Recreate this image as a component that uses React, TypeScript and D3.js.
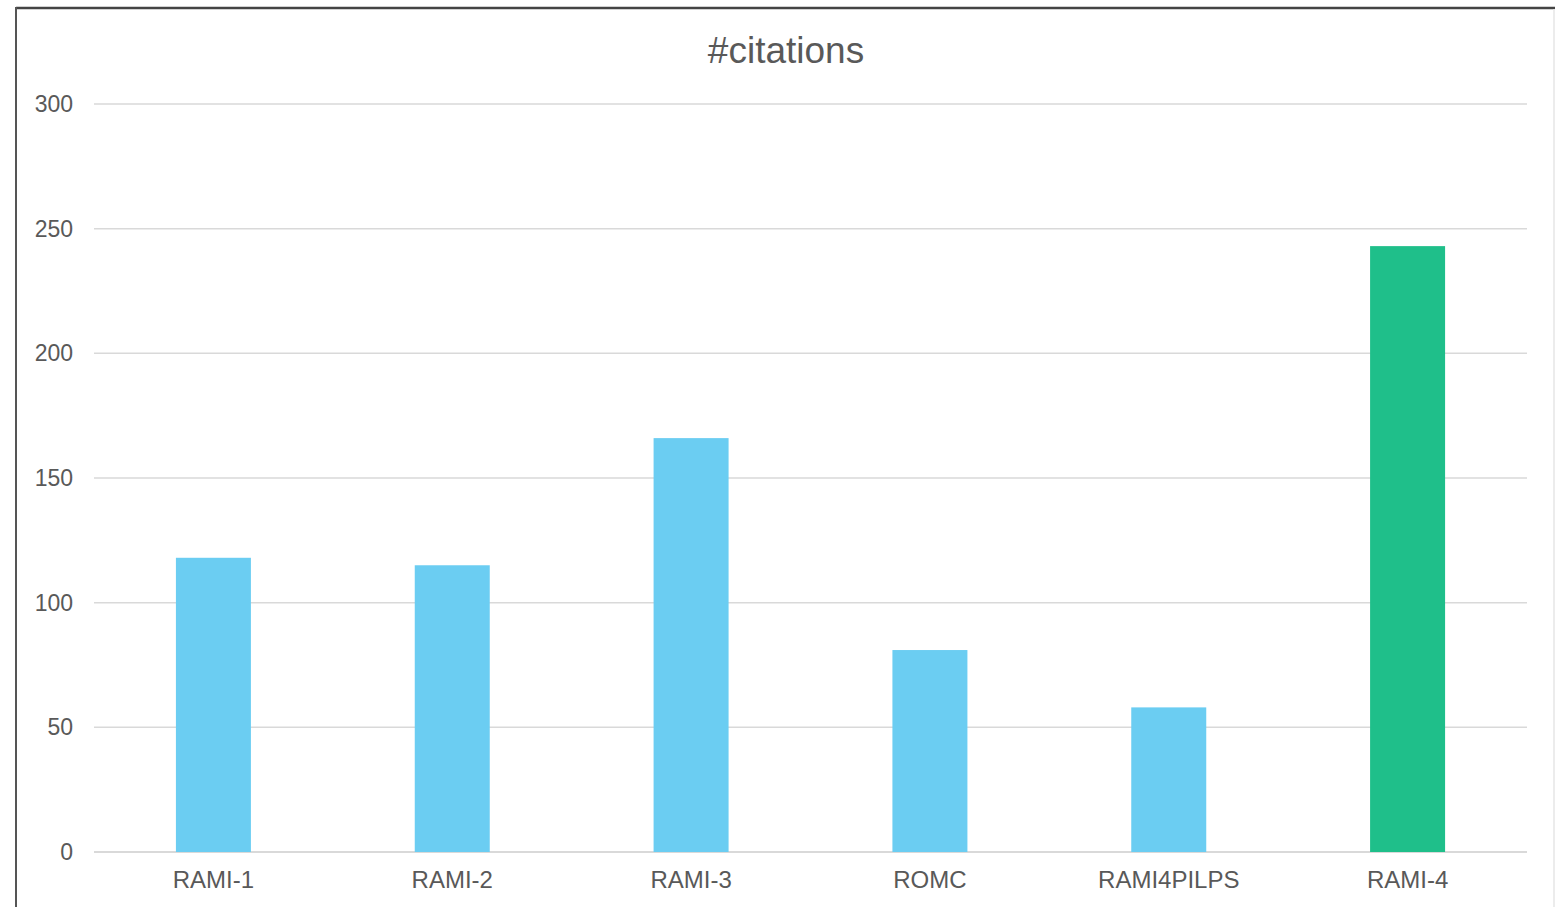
import React from "react";
import * as d3 from "d3";

const categories = ["RAMI-1", "RAMI-2", "RAMI-3", "ROMC", "RAMI4PILPS", "RAMI-4"];
const citations = [118, 115, 166, 81, 58, 243];
const barColors = ["#6BCDF2", "#6BCDF2", "#6BCDF2", "#6BCDF2", "#6BCDF2", "#1FBF8A"];
const yTicks = [0, 50, 100, 150, 200, 250, 300];
const title = "#citations";

const W = 1555;
const H = 907;
const plot = { left: 94, right: 1527, top: 104, bottom: 852 };
const font = "'Liberation Sans', Arial, sans-serif";
const textColor = "#595959";

export default function App() {
  const x = d3
    .scaleBand<string>()
    .domain(categories)
    .range([plot.left, plot.right])
    .paddingInner(0.686)
    .paddingOuter(0.343);
  const y = d3.scaleLinear().domain([0, 300]).range([plot.bottom, plot.top]);

  return (
    <svg
      width={W}
      height={H}
      style={{ position: "fixed", left: 0, top: 0, background: "#fff" }}
      fontFamily={font}
    >
      <rect x={0} y={0} width={W} height={H} fill="#fff" />
      {/* frame */}
      <line x1={16} y1={8} x2={W} y2={8} stroke="#444" strokeWidth={2.5} />
      <line x1={16} y1={7} x2={16} y2={H} stroke="#555" strokeWidth={2} />
      <line x1={1554} y1={9} x2={1554} y2={H} stroke="#e6e6e6" strokeWidth={1.5} />

      <text
        x={786}
        y={63}
        textAnchor="middle"
        fontSize={37}
        fill={textColor}
      >
        {title}
      </text>

      {/* gridlines and y tick labels */}
      {yTicks.map((t) => (
        <g key={t}>
          <line
            x1={plot.left}
            x2={plot.right}
            y1={y(t)}
            y2={y(t)}
            stroke="#d9d9d9"
            strokeWidth={t === 0 ? 2 : 1.5}
          />
          <text
            x={73}
            y={y(t)}
            dy="0.35em"
            textAnchor="end"
            fontSize={23}
            fill={textColor}
          >
            {t}
          </text>
        </g>
      ))}

      {/* bars */}
      {categories.map((c, i) => (
        <rect
          key={c}
          x={x(c)}
          y={y(citations[i])}
          width={x.bandwidth()}
          height={y(0) - y(citations[i])}
          fill={barColors[i]}
        />
      ))}

      {/* category labels */}
      {categories.map((c) => (
        <text
          key={c}
          x={(x(c) as number) + x.bandwidth() / 2}
          y={888}
          textAnchor="middle"
          fontSize={24}
          fill={textColor}
        >
          {c}
        </text>
      ))}
    </svg>
  );
}
